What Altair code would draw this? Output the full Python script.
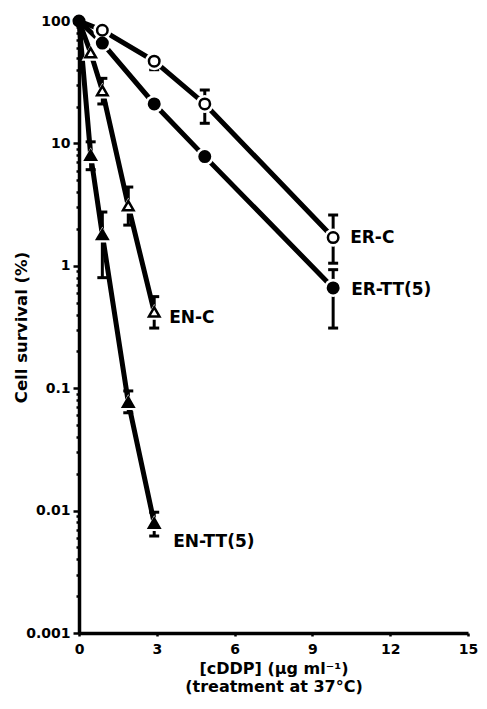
import altair as alt
import pandas as pd

# ---- data ----
series_names = ["ER-C", "ER-TT(5)", "EN-C", "EN-TT(5)"]

er_x = [0, 0.9, 2.9, 4.85, 9.8]
er_c_y = [100, 84, 47, 21, 1.7]
er_tt_y = [100, 66, 21, 7.8, 0.66]

en_x = [0, 0.45, 0.9, 1.9, 2.9]
en_c_y = [100, 55, 27, 3.1, 0.42]
en_tt_y = [100, 8.0, 1.8, 0.077, 0.0079]

# error bars: series, x, low, high
err_series = ["ER-C", "ER-C", "ER-C", "ER-TT(5)",
              "EN-C", "EN-C", "EN-C",
              "EN-TT(5)", "EN-TT(5)", "EN-TT(5)", "EN-TT(5)"]
err_x = [2.9, 4.85, 9.8, 9.8,
         0.9, 1.9, 2.9,
         0.45, 0.9, 1.9, 2.9]
err_lo = [40, 14.6, 1.05, 0.31,
          21, 2.15, 0.31,
          6.1, 0.8, 0.063, 0.0062]
err_hi = [47, 27.3, 2.6, 0.93,
          34, 4.4, 0.56,
          10.3, 2.75, 0.095, 0.0097]

x_ticks = [0, 3, 6, 9, 12, 15]
y_major = [0.001, 0.01, 0.1, 1, 10, 100]
y_ticks = sorted(set([round(m * 10 ** e, 8) for e in range(-3, 2) for m in range(1, 10)] + [100]))

# ---- tables ----
rows = []
for s, xs, ys in [("ER-C", er_x, er_c_y), ("ER-TT(5)", er_x, er_tt_y),
                  ("EN-C", en_x, en_c_y), ("EN-TT(5)", en_x, en_tt_y)]:
    for i, (xv, yv) in enumerate(zip(xs, ys)):
        rows.append({"series": s, "x": xv, "y": yv, "i": i})
df = pd.DataFrame(rows)
err = pd.DataFrame({"series": err_series, "x": err_x, "lo": err_lo, "hi": err_hi})
last = df.sort_values("x").groupby("series").tail(1)

FONT = "DejaVu Sans"
W, H = 389, 612

xscale = alt.Scale(domain=[0, 15], nice=False, zero=False)
yscale = alt.Scale(type="log", domain=[0.001, 100], nice=False)

is_major = "abs(log(datum.value)/LN10 - round(log(datum.value)/LN10)) < 0.01"

x_enc = alt.X("x:Q", scale=xscale, axis=alt.Axis(
    values=x_ticks, grid=False, tickSize=3, tickWidth=2.5, domainWidth=3.5,
    labelFont=FONT, labelFontWeight="bold", labelFontSize=14, labelPadding=6,
    labelColor="black", tickColor="black", domainColor="black",
    labelFlush=False,
    title=["[cDDP] (\u03bcg ml\u207b\u00b9)", "(treatment at 37\u00b0C)"],
    titleFont=FONT, titleFontWeight="bold", titleFontSize=16, titleLineHeight=18,
    titleColor="black", titlePadding=4))
y_enc = alt.Y("y:Q", scale=yscale, axis=alt.Axis(
    values=y_ticks, grid=False,
    tickSize={"condition": {"test": is_major, "value": 6}, "value": 3},
    tickWidth=2.5, domainWidth=3.5,
    labelExpr=f"{is_major} ? format(datum.value, '~g') : ''",
    labelFont=FONT, labelFontWeight="bold", labelFontSize=14, labelPadding=3,
    labelColor="black", tickColor="black", domainColor="black",
    title="Cell survival (%)", titleFont=FONT, titleFontWeight="bold",
    titleFontSize=16.5, titleColor="black", titleX=-50, titleY=306))

base = alt.Chart(df)

lines = base.mark_line(color="black", strokeWidth=5).encode(
    x=x_enc, y=y_enc, detail="series:N", order="x:Q")

err_base = alt.Chart(err)
err_rule = err_base.mark_rule(color="black", strokeWidth=3).encode(
    x="x:Q", y="lo:Q", y2="hi:Q")
cap_lo = err_base.mark_rule(color="black", strokeWidth=3, xOffset=-5, x2Offset=5).encode(
    x="x:Q", x2="x:Q", y="lo:Q")
cap_hi = err_base.mark_rule(color="black", strokeWidth=3, xOffset=-5, x2Offset=5).encode(
    x="x:Q", x2="x:Q", y="hi:Q")

shape_scale = alt.Scale(domain=series_names, range=["circle", "circle", "triangle-up", "triangle-up"])
fill_scale = alt.Scale(domain=series_names, range=["white", "black", "white", "black"])

halo = base.transform_filter("datum.x > 0").mark_point(
    filled=True, color="white", size=330, opacity=1).encode(
    x="x:Q", y="y:Q", shape=alt.Shape("series:N", scale=shape_scale, legend=None))

markers = base.transform_filter("datum.x > 0").mark_point(
    stroke="black", strokeWidth=2.5, size=110, opacity=1, fillOpacity=1).encode(
    x="x:Q", y="y:Q",
    shape=alt.Shape("series:N", scale=shape_scale, legend=None),
    fill=alt.Fill("series:N", scale=fill_scale, legend=None))

origin = base.transform_filter("datum.x == 0 && datum.series == 'ER-TT(5)'").mark_point(
    filled=True, color="black", size=170, opacity=1).encode(x="x:Q", y="y:Q")

def label(name, dx, dy):
    return alt.Chart(last).transform_filter(f"datum.series == '{name}'").mark_text(
        align="left", baseline="middle", dx=dx, dy=dy, font=FONT,
        fontWeight="bold", fontSize=17, color="black").encode(
        x="x:Q", y="y:Q", text="series:N")

labels = [label("ER-C", 17, 0), label("ER-TT(5)", 18, 2),
          label("EN-C", 15, 6), label("EN-TT(5)", 19, 19)]

chart = alt.layer(lines, err_rule, cap_lo, cap_hi, halo, markers, origin, *labels).properties(
    width=W, height=H,
    background="white",
    autosize=alt.AutoSizeParams(type="none"),
    padding={"left": 71, "top": 13, "right": 10.5, "bottom": 63},
).configure_view(stroke=None)

chart.save("out.html", embed_options={"renderer": "svg", "actions": False})
